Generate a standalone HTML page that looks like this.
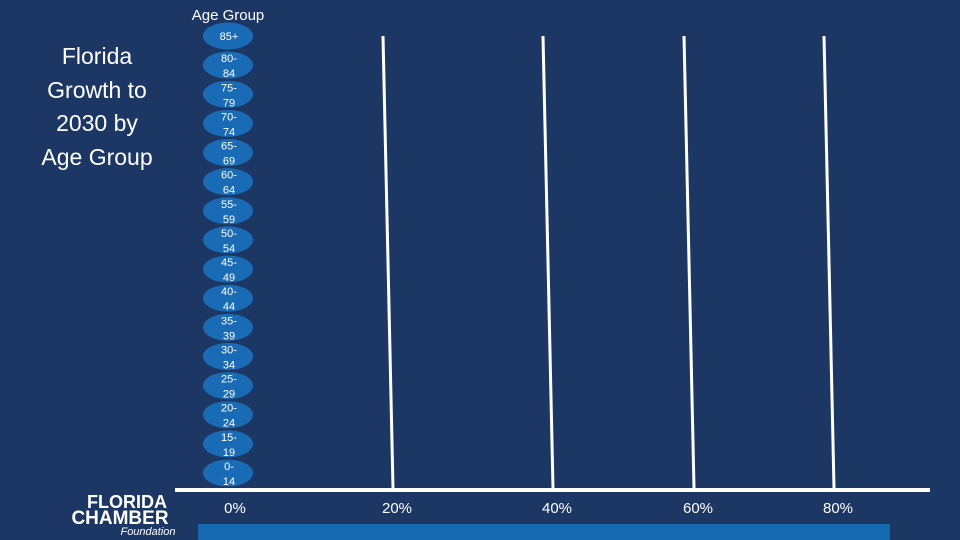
<!DOCTYPE html>
<html><head><meta charset="utf-8"><style>
body{margin:0;width:960px;height:540px;overflow:hidden;background:#1d3764;font-family:"Liberation Sans",sans-serif}
svg{position:absolute;left:0;top:0}
</style></head><body>
<svg width="960" height="540">
<rect width="960" height="540" fill="#1d3764"/>
<g fill="#fff" font-size="23" text-anchor="middle">
<text x="97" y="64">Florida</text><text x="97" y="98">Growth to</text><text x="97" y="131">2030 by</text><text x="97" y="165">Age Group</text>
</g>
<text x="228" y="20" fill="#fff" font-size="15" text-anchor="middle">Age Group</text>
<g id="grid"></g>
<line x1="175" y1="490" x2="930" y2="490" stroke="#fff" stroke-width="4"/>
<g id="cats"></g>
<g id="ticks"></g>
<rect x="198" y="524" width="692" height="16" fill="#1569b0"/>
<g fill="#fff" text-anchor="middle" font-weight="bold">
<text x="127" y="508" font-size="18">FLORIDA</text>
<text x="120" y="524" font-size="19">CHAMBER</text>
<text x="148" y="535" font-size="11" font-style="italic" font-weight="normal">Foundation</text>
</g>
</svg>
<script>
const categories=["85+","80-84","75-79","70-74","65-69","60-64","55-59","50-54","45-49","40-44","35-39","30-34","25-29","20-24","15-19","0-14"];
const values=[0,0,0,0,0,0,0,0,0,0,0,0,0,0,0,0];
const tickValues=[0,20,40,60,80];
const tickLabels=["0%","20%","40%","60%","80%"];
const NS="http://www.w3.org/2000/svg";
const xPos=[235,397,557,698,838];
function x(v){for(let i=0;i<tickValues.length-1;i++){if(v<=tickValues[i+1]){const t=(v-tickValues[i])/(tickValues[i+1]-tickValues[i]);return xPos[i]+t*(xPos[i+1]-xPos[i]);}}return xPos[xPos.length-1];}
function y(i){return 36+i*(473-36)/(categories.length-1);}
const cats=document.getElementById('cats'),grid=document.getElementById('grid'),ticks=document.getElementById('ticks');
categories.forEach((c,i)=>{
 const cy=y(i);
 const e=document.createElementNS(NS,'ellipse');
 
 
 e.setAttribute('cx',228);e.setAttribute('cy',cy);e.setAttribute('rx',25);e.setAttribute('ry',13.5);e.setAttribute('fill','#1a6bb5');
 cats.appendChild(e);
 const parts=c.includes('-')?[c.split('-')[0]+'-',c.split('-')[1]]:[c];
 parts.forEach((p,j)=>{
  const t=document.createElementNS(NS,'text');
  
  
  t.setAttribute('x',229);t.setAttribute('y',parts.length>1?cy-3+j*15:cy+4);
  t.setAttribute('fill','#fff');t.setAttribute('font-size','11');t.setAttribute('text-anchor','middle');
  t.textContent=p;cats.appendChild(t);
 });
 if(values[i]>0){
  const b=document.createElementNS(NS,'rect');
  
  
  b.setAttribute('x',x(0));b.setAttribute('y',cy-10);b.setAttribute('width',x(values[i])-x(0));b.setAttribute('height',20);b.setAttribute('fill','#fff');
  cats.appendChild(b);
 }
});
tickValues.forEach((v,i)=>{
 const px=x(v);
 if(v>0){
  const l=document.createElementNS(NS,'line');
  
  
  l.setAttribute('x1',px-14);l.setAttribute('y1',36);l.setAttribute('x2',px-4);l.setAttribute('y2',488);
  l.setAttribute('stroke','#fff');l.setAttribute('stroke-width','3');grid.appendChild(l);
 }
 const t=document.createElementNS(NS,'text');
 
 
 t.setAttribute('x',px);t.setAttribute('y',513);t.setAttribute('fill','#fff');t.setAttribute('font-size','15');t.setAttribute('text-anchor','middle');
 t.textContent=tickLabels[i];ticks.appendChild(t);
});
</script>
</body></html>
